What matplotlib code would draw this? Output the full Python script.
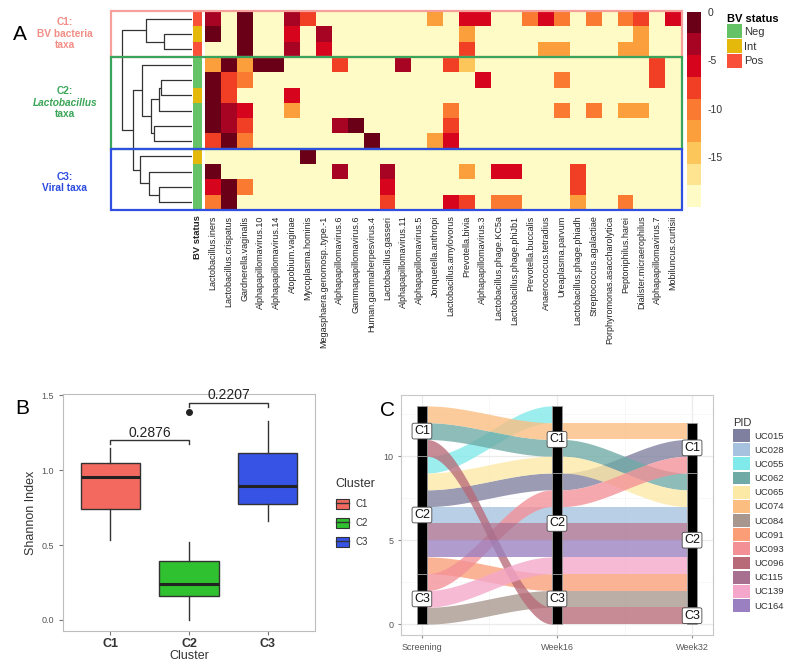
import numpy as np
import matplotlib
matplotlib.use("Agg")
import matplotlib.pyplot as plt
from matplotlib.colors import ListedColormap, BoundaryNorm
from matplotlib.patches import Rectangle, Patch
from matplotlib.lines import Line2D
from matplotlib.cm import ScalarMappable
from matplotlib.legend_handler import HandlerTuple

plt.rcParams['font.family'] = ['Liberation Sans', 'DejaVu Sans']

# ---------------- data: panel A ----------------
taxa = ["Lactobacillus.iners", "Lactobacillus.crispatus", "Gardnerella.vaginalis",
        "Alphapapillomavirus.10", "Alphapapillomavirus.14", "Atopobium.vaginae",
        "Mycoplasma.hominis", "Megasphaera.genomosp..type.-1", "Alphapapillomavirus.6",
        "Gammapapillomavirus.6", "Human.gammaherpesvirus.4", "Lactobacillus.gasseri",
        "Alphapapillomavirus.11", "Alphapapillomavirus.5", "Jonquetella.anthropi",
        "Lactobacillus.amylovorus", "Prevotella.bivia", "Alphapapillomavirus.3",
        "Lactobacillus.phage.KC5a", "Lactobacillus.phage.phiJb1", "Prevotella.buccalis",
        "Anaerococcus.tetradius", "Ureaplasma.parvum", "Lactobacillus.phage.phiadh",
        "Streptococcus.agalactiae", "Porphyromonas.asaccharolytica", "Peptoniphilus.harei",
        "Dialister.micraerophilus", "Alphapapillomavirus.7", "Mobiluncus.curtisii"]

bv_status = ["Pos", "Int", "Pos", "Neg", "Neg", "Int", "Neg", "Neg", "Neg",
             "Int", "Neg", "Neg", "Neg"]
cluster_sizes = [3, 6, 4]

# log abundance per sample: {taxon column (1-based): value}, everything else at floor
floor_value = -19
abund_cells = [
    {1: -3.4, 3: -1.1, 6: -3.4, 7: -7.8, 15: -12.3, 17: -5.6, 18: -5.6, 21: -10,
     22: -5.6, 23: -10, 25: -10, 27: -10, 28: -7.8, 30: -5.6},
    {1: -1.1, 3: -1.1, 6: -5.6, 8: -3.4, 17: -12.3, 28: -12.3},
    {3: -1.1, 6: -3.4, 8: -5.6, 17: -7.8, 22: -12.3, 23: -12.3, 27: -12.3, 28: -12.3},
    {1: -12.3, 2: -1.1, 3: -12.3, 4: -1.1, 5: -1.1, 9: -7.8, 13: -3.4, 16: -7.8,
     17: -14.5, 29: -7.8},
    {1: -1.1, 2: -7.8, 3: -10, 18: -5.6, 23: -10, 29: -7.8},
    {1: -1.1, 2: -7.8, 6: -5.6},
    {1: -1.1, 2: -3.4, 3: -5.6, 6: -12.3, 16: -10, 23: -10, 25: -10, 27: -12.3, 28: -12.3},
    {1: -1.1, 2: -3.4, 3: -7.8, 9: -3.4, 10: -1.1, 16: -7.8},
    {1: -7.8, 2: -1.1, 3: -10, 11: -1.1, 15: -12.3, 16: -5.6},
    {7: -1.1},
    {1: -1.1, 9: -3.4, 12: -3.4, 17: -12.3, 19: -5.6, 20: -5.6, 24: -7.8},
    {1: -5.6, 2: -1.1, 3: -10, 12: -5.6, 24: -7.8},
    {1: -10.5, 2: -1.1, 12: -7.8, 16: -5.6, 17: -7.8, 19: -10.5, 20: -10.5, 24: -12.3, 27: -10},
]

# dendrogram merges (child a, child b, height); leaves are rows 0..12
merges = [(1, 2, 85), (0, 13, 138), (4, 5, 93), (15, 6, 98), (7, 8, 115),
          (16, 17, 123), (3, 18, 150), (11, 12, 100), (10, 20, 128), (9, 21, 155),
          (19, 22, 177), (14, 23, 208)]

# ---------------- data: panel B ----------------
clusters = ["C1", "C2", "C3"]
shannon_med = [0.956, 0.240, 0.895]
shannon_q1 = [0.743, 0.157, 0.775]
shannon_q3 = [1.048, 0.392, 1.115]
shannon_lo = [0.533, 0.0, 0.660]
shannon_hi = [1.146, 0.519, 1.332]
shannon_out = [[], [1.392], []]
comparisons = [(1, 2, "0.2876", 1.20), (2, 3, "0.2207", 1.453)]

# ---------------- data: panel C ----------------
timepoints = ["Screening", "Week16", "Week32"]
pids = ["UC015", "UC028", "UC055", "UC062", "UC065", "UC074", "UC084",
        "UC091", "UC093", "UC096", "UC115", "UC139", "UC164"]
stack_order = [
    ["UC074", "UC062", "UC096", "UC055", "UC065", "UC015", "UC028", "UC115",
     "UC164", "UC091", "UC093", "UC139", "UC084"],
    ["UC055", "UC074", "UC062", "UC065", "UC015", "UC093", "UC028", "UC115",
     "UC164", "UC139", "UC091", "UC084", "UC096"],
    ["UC074", "UC015", "UC093", "UC062", "UC065", "UC028", "UC115", "UC164",
     "UC139", "UC091", "UC084", "UC096"],
]
strata_counts = [[3, 7, 3], [4, 6, 3], [3, 8, 1]]

# ---------------- styles ----------------
W, H = 789, 665
fig = plt.figure(figsize=(W / 100, H / 100), dpi=100)


def px_axes(x0, y0, x1, y1):
    return fig.add_axes([x0 / W, 1 - y1 / H, (x1 - x0) / W, (y1 - y0) / H])


heat_colors = ["#fffbc6", "#fee490", "#fdc65b", "#fb9e3c", "#f97a30",
               "#f03f24", "#d7041e", "#a70323", "#6a0018"]
heat_cmap = ListedColormap(heat_colors)
heat_norm = BoundaryNorm(np.linspace(-20.1, 0, 10), heat_cmap.N)
bv_colors = {"Neg": "#66c266", "Int": "#e4b90c", "Pos": "#f9503a"}
cluster_box_colors = ["#f5a09b", "#3aa55a", "#2f4fe0"]
cluster_text_colors = ["#f28e86", "#3aa657", "#2c4ce0"]
box_fill = ["#f4695f", "#2fc12f", "#3653e6"]
pid_colors = ["#7f7f9f", "#a6c2df", "#80eaea", "#6faaa6", "#fde9a6", "#fbbd80",
              "#a8978e", "#fb9e78", "#f39096", "#b86a78", "#a87090", "#f4a7ca", "#9a80c0"]

# ================= panel A =================
top_px, bot_px = 11, 210
n_rows, n_cols = len(bv_status), len(taxa)
row_h = (bot_px - top_px) / n_rows

mat = np.full((n_rows, n_cols), float(floor_value))
for r, cells in enumerate(abund_cells):
    for c, v in cells.items():
        mat[r, c - 1] = v

ax_h = px_axes(205, top_px, 681, bot_px)
ax_h.pcolormesh(np.arange(n_cols + 1), np.arange(n_rows + 1), mat,
                cmap=heat_cmap, norm=heat_norm)
ax_h.set_xlim(0, n_cols)
ax_h.set_ylim(n_rows, 0)
ax_h.set_xticks(np.arange(n_cols) + 0.5)
ax_h.set_xticklabels(taxa, rotation=90, fontsize=6.5, color="#222")
ax_h.set_yticks([])
ax_h.tick_params(axis="x", length=0, pad=4)
for s in ax_h.spines.values():
    s.set_visible(False)

ax_bv = px_axes(192.5, top_px, 202.5, bot_px)
bv_cmap = ListedColormap([bv_colors[k] for k in ["Neg", "Int", "Pos"]])
bv_codes = np.array([["Neg", "Int", "Pos"].index(b) for b in bv_status])[:, None]
ax_bv.pcolormesh([0, 1], np.arange(n_rows + 1), bv_codes, cmap=bv_cmap, vmin=-0.5, vmax=2.5)
ax_bv.set_xlim(0, 1)
ax_bv.set_ylim(n_rows, 0)
ax_bv.set_xticks([0.5])
ax_bv.set_xticklabels(["BV status"], rotation=90, fontsize=6.8, fontweight="bold", color="#222")
ax_bv.set_yticks([])
ax_bv.tick_params(axis="x", length=0, pad=4)
for s in ax_bv.spines.values():
    s.set_visible(False)

# dendrogram
ax_d = px_axes(111, top_px, 192, bot_px)
node_y = {i: i + 0.5 for i in range(n_rows)}
node_h = {i: 0 for i in range(n_rows)}
for k, (a, b, h) in enumerate(merges):
    nid = n_rows + k
    ax_d.plot([node_h[a], h, h, node_h[b]], [node_y[a], node_y[a], node_y[b], node_y[b]],
              color="#333333", lw=0.9, solid_capstyle="butt")
    node_y[nid] = (node_y[a] + node_y[b]) / 2
    node_h[nid] = h
ax_d.set_xlim(242, 0)
ax_d.set_ylim(n_rows, 0)
ax_d.axis("off")

# cluster boxes and labels
label_lines = [[("C1:", "normal"), ("BV bacteria", "normal"), ("taxa", "normal")],
               [("C2:", "normal"), ("Lactobacillus", "italic"), ("taxa", "normal")],
               [("C3:", "normal"), ("Viral taxa", "normal")]]
start = 0
for ci, size in enumerate(cluster_sizes):
    y0 = top_px + start * row_h
    y1 = top_px + (start + size) * row_h
    fig.patches.append(Rectangle((111 / W, 1 - y1 / H), (681.5 - 111) / W, (y1 - y0) / H,
                                 transform=fig.transFigure, fill=False,
                                 ec=cluster_box_colors[ci], lw=1.6, zorder=5))
    lines = label_lines[ci]
    yc = (y0 + y1) / 2
    if ci == 2:
        yc += 3
    for li, (txt, sty) in enumerate(lines):
        yy = yc + (li - (len(lines) - 1) / 2) * 11.5
        fig.text(65 / W, 1 - yy / H, txt, ha="center", va="center", fontsize=7.3,
                 fontweight="bold", fontstyle=sty, color=cluster_text_colors[ci])
    start += size

fig.text(13 / W, 1 - 35 / H, "A", fontsize=15, ha="left", va="center")

# colorbar
cax = px_axes(687, 11.7, 701, 207)
cb = fig.colorbar(ScalarMappable(norm=heat_norm, cmap=heat_cmap), cax=cax)
cb.set_ticks([0, -5, -10, -15])
cb.set_ticklabels(["0", "-5", "-10", "-15"])
cb.outline.set_visible(False)
cax.minorticks_off()
cax.tick_params(which="both", length=0, labelsize=7.5, pad=5, labelcolor="#333")

bv_handles = [Patch(fc=bv_colors[k], ec="none") for k in ["Neg", "Int", "Pos"]]
leg_bv = fig.legend(bv_handles, ["Neg", "Int", "Pos"], title="BV status",
                    loc="upper left", bbox_to_anchor=(721 / W, 1 - 8 / H), frameon=False,
                    fontsize=8, title_fontproperties={"weight": "bold", "size": 8},
                    handlelength=1.35, handleheight=1.56, labelspacing=0.06,
                    handletextpad=0.25, borderpad=0, alignment="left")
for t in leg_bv.get_texts():
    t.set_color("#333")

# ================= panel B =================
ax_b = px_axes(63, 394, 315, 631)
stats = []
for i in range(len(clusters)):
    stats.append(dict(med=shannon_med[i], q1=shannon_q1[i], q3=shannon_q3[i],
                      whislo=shannon_lo[i], whishi=shannon_hi[i],
                      fliers=shannon_out[i], label=clusters[i]))
bp = ax_b.bxp(stats, positions=[1, 2, 3], widths=0.75, patch_artist=True,
              showcaps=False,
              boxprops=dict(ec="#333333", lw=1.0),
              medianprops=dict(color="#222222", lw=2.2),
              whiskerprops=dict(color="#333333", lw=1.0),
              flierprops=dict(marker="o", markerfacecolor="#222", markeredgecolor="#222",
                              markersize=4))
for patch, c in zip(bp["boxes"], box_fill):
    patch.set_facecolor(c)

for x1, x2, txt, yb in comparisons:
    ax_b.plot([x1, x1, x2, x2], [yb - 0.027, yb, yb, yb - 0.027], color="#333", lw=1)
    ax_b.text((x1 + x2) / 2, yb + 0.005, txt, ha="center", va="bottom", fontsize=10,
              color="#222")

ax_b.set_xlim(0.4, 3.6)
ax_b.set_ylim(-0.074, 1.51)
ax_b.set_yticks([0, 0.5, 1.0, 1.5])
ax_b.set_yticklabels(["0.0", "0.5", "1.0", "1.5"])
ax_b.set_xticks([1, 2, 3])
ax_b.set_xticklabels(clusters, fontweight="bold", fontsize=9, color="#333")
ax_b.tick_params(axis="y", labelsize=6.5, labelcolor="#555", color="#777", length=3)
ax_b.tick_params(axis="x", color="#777", length=3, pad=2)
ax_b.set_xlabel("Cluster", fontsize=9, color="#333", labelpad=0)
ax_b.set_ylabel("Shannon Index", fontsize=9, color="#333", labelpad=3)
for s in ax_b.spines.values():
    s.set_color("#bdbdbd")

cl_handles = [(Patch(fc=c, ec="#333", lw=0.8), Line2D([], [], color="#333", lw=1))
              for c in box_fill]
leg_cl = fig.legend(cl_handles, clusters, title="Cluster", loc="upper left",
                    bbox_to_anchor=(331 / W, 1 - 473 / H), frameon=False, fontsize=7,
                    title_fontsize=9, handlelength=1.35, handleheight=1.21,
                    labelspacing=0.9, handletextpad=0.7, borderpad=0, alignment="left",
                    handler_map={tuple: HandlerTuple(ndivide=1, pad=0)})
leg_cl.get_title().set_color("#333")
for t in leg_cl.get_texts():
    t.set_color("#333")

fig.text(15 / W, 1 - 408 / H, "B", fontsize=15, ha="left", va="center")

# ================= panel C =================
ax_c = px_axes(401, 395, 713, 635)
sw = 0.075
pid_color = dict(zip(pids, pid_colors))
bottoms = []
for order in stack_order:
    n = len(order)
    bottoms.append({p: n - 1 - i for i, p in enumerate(order)})

u = np.linspace(0, 1, 80)
ease = u * u * (3 - 2 * u)
for t in range(len(timepoints) - 1):
    xa, xb = t + 1 + sw / 2, t + 2 - sw / 2
    xs = xa + (xb - xa) * u
    for p in pids:
        if p in bottoms[t] and p in bottoms[t + 1]:
            b1, b2 = bottoms[t][p], bottoms[t + 1][p]
            lo = b1 + (b2 - b1) * ease
            ax_c.fill_between(xs, lo, lo + 1, color=pid_color[p], alpha=0.78, lw=0)

for t, counts in enumerate(strata_counts):
    top = len(stack_order[t])
    for ci, cnt in enumerate(counts):
        bot = top - cnt
        ax_c.add_patch(Rectangle((t + 1 - sw / 2, bot), sw, cnt, fc="black",
                                 ec="#9a9a9a", lw=0.6, zorder=3))
        ax_c.text(t + 1, (top + bot) / 2, clusters[ci], ha="center", va="center",
                  fontsize=9, zorder=4, color="#111",
                  bbox=dict(boxstyle="round,pad=0.15", fc="white", ec="#444", lw=0.6))
        top = bot

ax_c.set_xlim(0.845, 3.155)
ax_c.set_ylim(-0.65, 13.65)
ax_c.set_xticks([1, 2, 3])
ax_c.set_xticklabels(timepoints)
ax_c.set_yticks([0, 5, 10])
ax_c.set_yticks([2.5, 7.5, 12.5], minor=True)
ax_c.set_xticks([1.5, 2.5], minor=True)
ax_c.grid(True, which="major", color="#ebebeb", lw=0.9)
ax_c.grid(True, which="minor", color="#f4f4f4", lw=0.5)
ax_c.set_axisbelow(True)
ax_c.tick_params(which="both", labelsize=6.5, labelcolor="#555", color="#888", length=2)
ax_c.tick_params(which="minor", length=0)
for s in ax_c.spines.values():
    s.set_color("#c8c8c8")

pid_handles = [Patch(fc=c, ec="none") for c in pid_colors]
leg_pid = fig.legend(pid_handles, pids, title="PID", loc="upper left",
                     bbox_to_anchor=(728 / W, 1 - 413 / H), frameon=False, fontsize=6.8,
                     title_fontsize=8, handlelength=1.8, handleheight=1.7,
                     labelspacing=0.15, handletextpad=0.5, borderpad=0, alignment="left")
leg_pid.get_title().set_color("#333")
for t in leg_pid.get_texts():
    t.set_color("#333")

fig.text(380 / W, 1 - 410 / H, "C", fontsize=15, ha="left", va="center")

fig.savefig("out.png", dpi=100, facecolor="white")
